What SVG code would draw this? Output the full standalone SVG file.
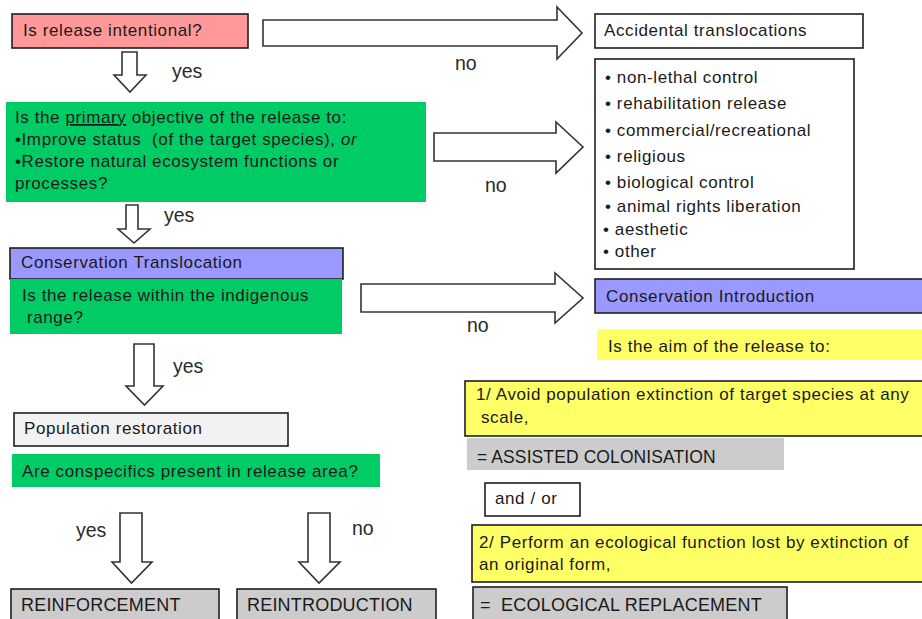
<svg xmlns="http://www.w3.org/2000/svg" width="922" height="619" viewBox="0 0 922 619">
<style>
text{font-family:"Liberation Sans",Arial,sans-serif;fill:#1a1a1a;}
.t{font-size:17px;letter-spacing:0.6px;}
.lbl{font-size:19.5px;fill:#2a2a2a;}
.big{font-size:18px;letter-spacing:0.2px;}
.bx{stroke:#1e1e1e;stroke-width:1.6;}
.arr{fill:#ffffff;stroke:#333333;stroke-width:1.6;stroke-linejoin:miter;}
.red{fill:#ff9999;}
.grn{fill:#00cc66;}
.pur{fill:#9999ff;}
.yel{fill:#ffff66;}
.gry{fill:#cccccc;}
.wht{fill:#ffffff;}
.pop{fill:#f2f2f2;}
</style>
<rect width="922" height="619" fill="#ffffff"/>

<g id="connectors">
  <polygon class="arr" points="263,20 557,20 557,7 582,33 557,59 557,46 263,46"/>
  <polygon class="arr" points="434,133 556,133 556,122 583,147 556,173 556,161 434,161"/>
  <polygon class="arr" points="361,284 555,284 555,273 583,298 555,323 555,312 361,312"/>
  <polygon class="arr" points="122,52 137,52 137,75 146,75 130,92 114,75 122,75"/>
  <polygon class="arr" points="126,205 138,205 138,229 150,229 134,243 118,229 126,229"/>
  <polygon class="arr" points="134,344 154,344 154,386 163,386 144.5,405 126,386 134,386"/>
  <polygon class="arr" points="120,513 142,513 142,562 152,562 131.5,583 112,562 120,562"/>
  <polygon class="arr" points="308,513 330,513 330,562 340,562 319,583 299,562 308,562"/>
  <text class="lbl" x="172" y="78">yes</text>
  <text class="lbl" x="455" y="70">no</text>
  <text class="lbl" x="485" y="192">no</text>
  <text class="lbl" x="164" y="222">yes</text>
  <text class="lbl" x="467" y="332">no</text>
  <text class="lbl" x="173" y="373">yes</text>
  <text class="lbl" x="76" y="537">yes</text>
  <text class="lbl" x="352" y="535">no</text>
</g>

<g id="intentional">
  <rect class="bx red" x="12" y="14" width="236" height="34"/>
  <text class="t" x="23" y="36">Is release intentional?</text>
</g>

<g id="accidental">
  <rect class="bx wht" x="595" y="14" width="268" height="34"/>
  <text class="t" x="604" y="36">Accidental translocations</text>
</g>

<g id="primary-objective">
  <rect class="grn" x="6" y="102" width="420" height="100"/>
  <text class="t" x="15" y="123">Is the <tspan text-decoration="underline">primary</tspan> objective of the release to:</text>
  <text class="t" x="15" y="145" style="white-space:pre">•Improve status  (of the target species), <tspan font-style="italic">or</tspan></text>
  <text class="t" x="15" y="167">•Restore natural ecosystem functions or</text>
  <text class="t" x="15" y="189">processes?</text>
</g>

<g id="other-reasons">
  <rect class="bx wht" x="595" y="59" width="259" height="210"/>
  <text class="t" x="605" y="83">• non-lethal control</text>
  <text class="t" x="605" y="109">• rehabilitation release</text>
  <text class="t" x="605" y="136">• commercial/recreational</text>
  <text class="t" x="605" y="162">• religious</text>
  <text class="t" x="605" y="188">• biological control</text>
  <text class="t" x="605" y="212">• animal rights liberation</text>
  <text class="t" x="603" y="235">• aesthetic</text>
  <text class="t" x="603" y="257">• other</text>
</g>

<g id="conservation-translocation">
  <rect class="bx pur" x="10" y="248" width="333" height="31"/>
  <text class="t" x="21" y="268">Conservation Translocation</text>
</g>

<g id="indigenous-range">
  <rect class="grn" x="10" y="279" width="332" height="55"/>
  <text class="t" x="22" y="301">Is the release within the indigenous</text>
  <text class="t" x="27" y="323">range?</text>
</g>

<g id="conservation-introduction">
  <rect class="bx pur" x="595" y="279" width="330" height="34"/>
  <text class="t" x="606" y="302">Conservation Introduction</text>
</g>

<g id="aim">
  <rect class="yel" x="597" y="329" width="325" height="31"/>
  <text class="t" x="608" y="352">Is the aim of the release to:</text>
</g>

<g id="avoid-extinction">
  <rect class="bx yel" x="465" y="381" width="460" height="55"/>
  <text class="t" x="476" y="400">1/ Avoid population extinction of target species at any</text>
  <text class="t" x="481" y="423">scale,</text>
</g>

<g id="assisted-colonisation">
  <rect class="gry" x="467" y="438" width="317" height="32"/>
  <text class="t" x="477" y="463" style="font-size:17.5px;letter-spacing:0.1px;">= ASSISTED COLONISATION</text>
</g>

<g id="and-or">
  <rect class="bx wht" x="485" y="483" width="95" height="33"/>
  <text class="t" x="495" y="504">and / or</text>
</g>

<g id="ecological-function">
  <rect class="bx yel" x="472" y="525" width="453" height="57"/>
  <text class="t" x="479" y="548">2/ Perform an ecological function lost by extinction of</text>
  <text class="t" x="479" y="570">an original form,</text>
</g>

<g id="ecological-replacement">
  <rect class="bx gry" x="473" y="587" width="314" height="40"/>
  <text class="big" x="480" y="611" style="white-space:pre">=  ECOLOGICAL REPLACEMENT</text>
</g>

<g id="population-restoration">
  <rect class="bx pop" x="14" y="413" width="274" height="33"/>
  <text class="t" x="24" y="434">Population restoration</text>
</g>

<g id="conspecifics">
  <rect class="grn" x="12" y="454" width="368" height="33"/>
  <text class="t" x="22" y="477">Are conspecifics present in release area?</text>
</g>

<g id="reinforcement">
  <rect class="bx gry" x="11" y="589" width="208" height="40"/>
  <text class="big" x="21" y="611">REINFORCEMENT</text>
</g>

<g id="reintroduction">
  <rect class="bx gry" x="237" y="589" width="199" height="40"/>
  <text class="big" x="247" y="611">REINTRODUCTION</text>
</g>
</svg>
